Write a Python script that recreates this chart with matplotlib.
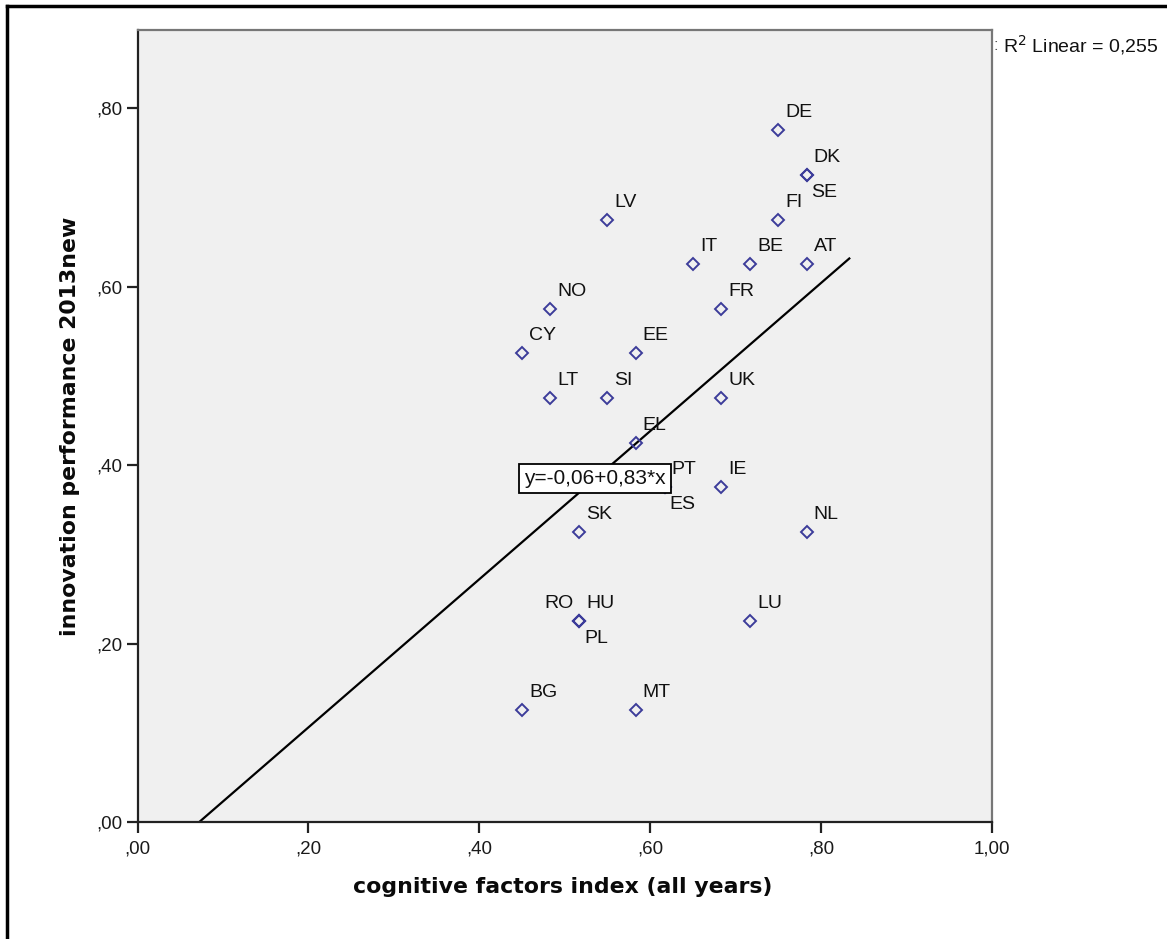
import matplotlib
matplotlib.use("Agg")
import matplotlib.pyplot as plt
from matplotlib.lines import Line2D
import numpy as np

# ---- data ----
countries = ["DE", "DK", "SE", "FI", "LV", "IT", "BE", "AT", "NO", "FR",
             "CY", "EE", "LT", "SI", "UK", "EL", "PT", "ES", "IE", "SK",
             "NL", "RO", "HU", "PL", "LU", "BG", "MT"]
cognitive = [0.750, 0.783, 0.783, 0.750, 0.550, 0.650, 0.717, 0.783, 0.483, 0.683,
             0.450, 0.583, 0.483, 0.550, 0.683, 0.583, 0.617, 0.617, 0.683, 0.517,
             0.783, 0.517, 0.517, 0.517, 0.717, 0.450, 0.583]
innovation = [0.775, 0.725, 0.725, 0.675, 0.675, 0.625, 0.625, 0.625, 0.575, 0.575,
              0.525, 0.525, 0.475, 0.475, 0.475, 0.425, 0.375, 0.375, 0.375, 0.325,
              0.325, 0.225, 0.225, 0.225, 0.225, 0.125, 0.125]
# label placement relative to marker: ur = upper right, lr = lower right, ul = upper left
placement = ["ur", "ur", "lr", "ur", "ur", "ur", "ur", "ur", "ur", "ur",
             "ur", "ur", "ur", "ur", "ur", "ur", "ur", "lr", "ur", "ur",
             "ur", "ul", "ur", "lr", "ur", "ur", "ur"]
intercept = -0.06
slope = 0.83
r2 = "0,255"
fit_x_end = 0.833
xticks = [0.0, 0.2, 0.4, 0.6, 0.8, 1.0]
xticklabels = [",00", ",20", ",40", ",60", ",80", "1,00"]
yticks = [0.0, 0.2, 0.4, 0.6, 0.8]
yticklabels = [",00", ",20", ",40", ",60", ",80"]

W, H = 1167, 939
fig = plt.figure(figsize=(W / 100, H / 100), dpi=100)
fig.patch.set_facecolor("white")
ax = fig.add_axes([137.5 / W, 1 - 822 / H, (992 - 137.5) / W, (822 - 30) / H])
ax.set_facecolor("#f0f0f0")
ax.set_xlim(0, 1.0)
ax.set_ylim(0, 0.8874)

tickfont = dict(family="Liberation Sans", size=13.5, color="#1a1a1a")

# regression line
x0 = -intercept / slope
xs = np.array([x0, fit_x_end])
ax.plot(xs, intercept + slope * xs, color="black", lw=1.6, zorder=2)

# markers
ax.plot(cognitive, innovation, linestyle="none", marker="D", markersize=6.3,
        markerfacecolor="none", markeredgecolor="#3c3c9a", markeredgewidth=1.4, zorder=3)

offsets = {"ur": ((7, 9), "left", "bottom"),
           "lr": ((5, -9), "left", "top"),
           "ul": ((-6, 9), "right", "bottom")}
for c, xv, yv, p in zip(countries, cognitive, innovation, placement):
    (dx, dy), ha, va = offsets[p]
    ax.annotate(c, (xv, yv), xytext=(dx, dy), textcoords="offset pixels",
                ha=ha, va=va, fontsize=14, family="Liberation Sans",
                color="#111111", zorder=4)

# equation box
eq = "y=" + f"{intercept:.2f}".replace(".", ",") + "+" + f"{slope:.2f}".replace(".", ",") + "*x"
ax.text(0.535, 0.385, eq,
        ha="center", va="center", fontsize=15, family="Liberation Sans", color="#111111",
        bbox=dict(boxstyle="square,pad=0.25", facecolor="white", edgecolor="black", lw=1.3),
        zorder=6)

# axes styling
for s in ["left", "bottom"]:
    ax.spines[s].set_color("#222222")
    ax.spines[s].set_linewidth(1.6)
for s in ["top", "right"]:
    ax.spines[s].set_color("#777777")
    ax.spines[s].set_linewidth(1.6)

ax.set_xticks(xticks)
ax.set_xticklabels(xticklabels, **tickfont)
ax.set_yticks(yticks)
ax.set_yticklabels(yticklabels, **tickfont)
ax.tick_params(axis="both", direction="out", length=8, width=1.6, color="#222222")
ax.tick_params(axis="x", pad=5)
ax.tick_params(axis="y", pad=3)

ax.set_xlabel("cognitive factors index (all years)", fontsize=15.8, fontweight="bold",
              family="DejaVu Sans", color="#0a0a0a", va="center")
ax.xaxis.set_label_coords(0.498, -0.082)
ax.set_ylabel("innovation performance 2013new", fontsize=15.8, fontweight="bold",
              family="DejaVu Sans", color="#0a0a0a", va="center")
ax.yaxis.set_label_coords(-0.079, 0.5)

# R2 legend text
fig.text(1003 / W, 1 - 45 / H, "R$^2$ Linear = " + r2, fontsize=14,
         family="Liberation Sans", color="#111111", ha="left", va="center")
fig.text(996 / W, 1 - 46 / H, ":", fontsize=12, family="Liberation Sans",
         color="#555555", ha="center", va="center")

# outer frame
fig.add_artist(Line2D([7 / W, 7 / W], [0, 1 - 6 / H], transform=fig.transFigure,
                      color="black", lw=2.5))
fig.add_artist(Line2D([7 / W, 1], [1 - 6 / H, 1 - 6 / H], transform=fig.transFigure,
                      color="black", lw=2.5))

fig.savefig("out.png", dpi=100)
